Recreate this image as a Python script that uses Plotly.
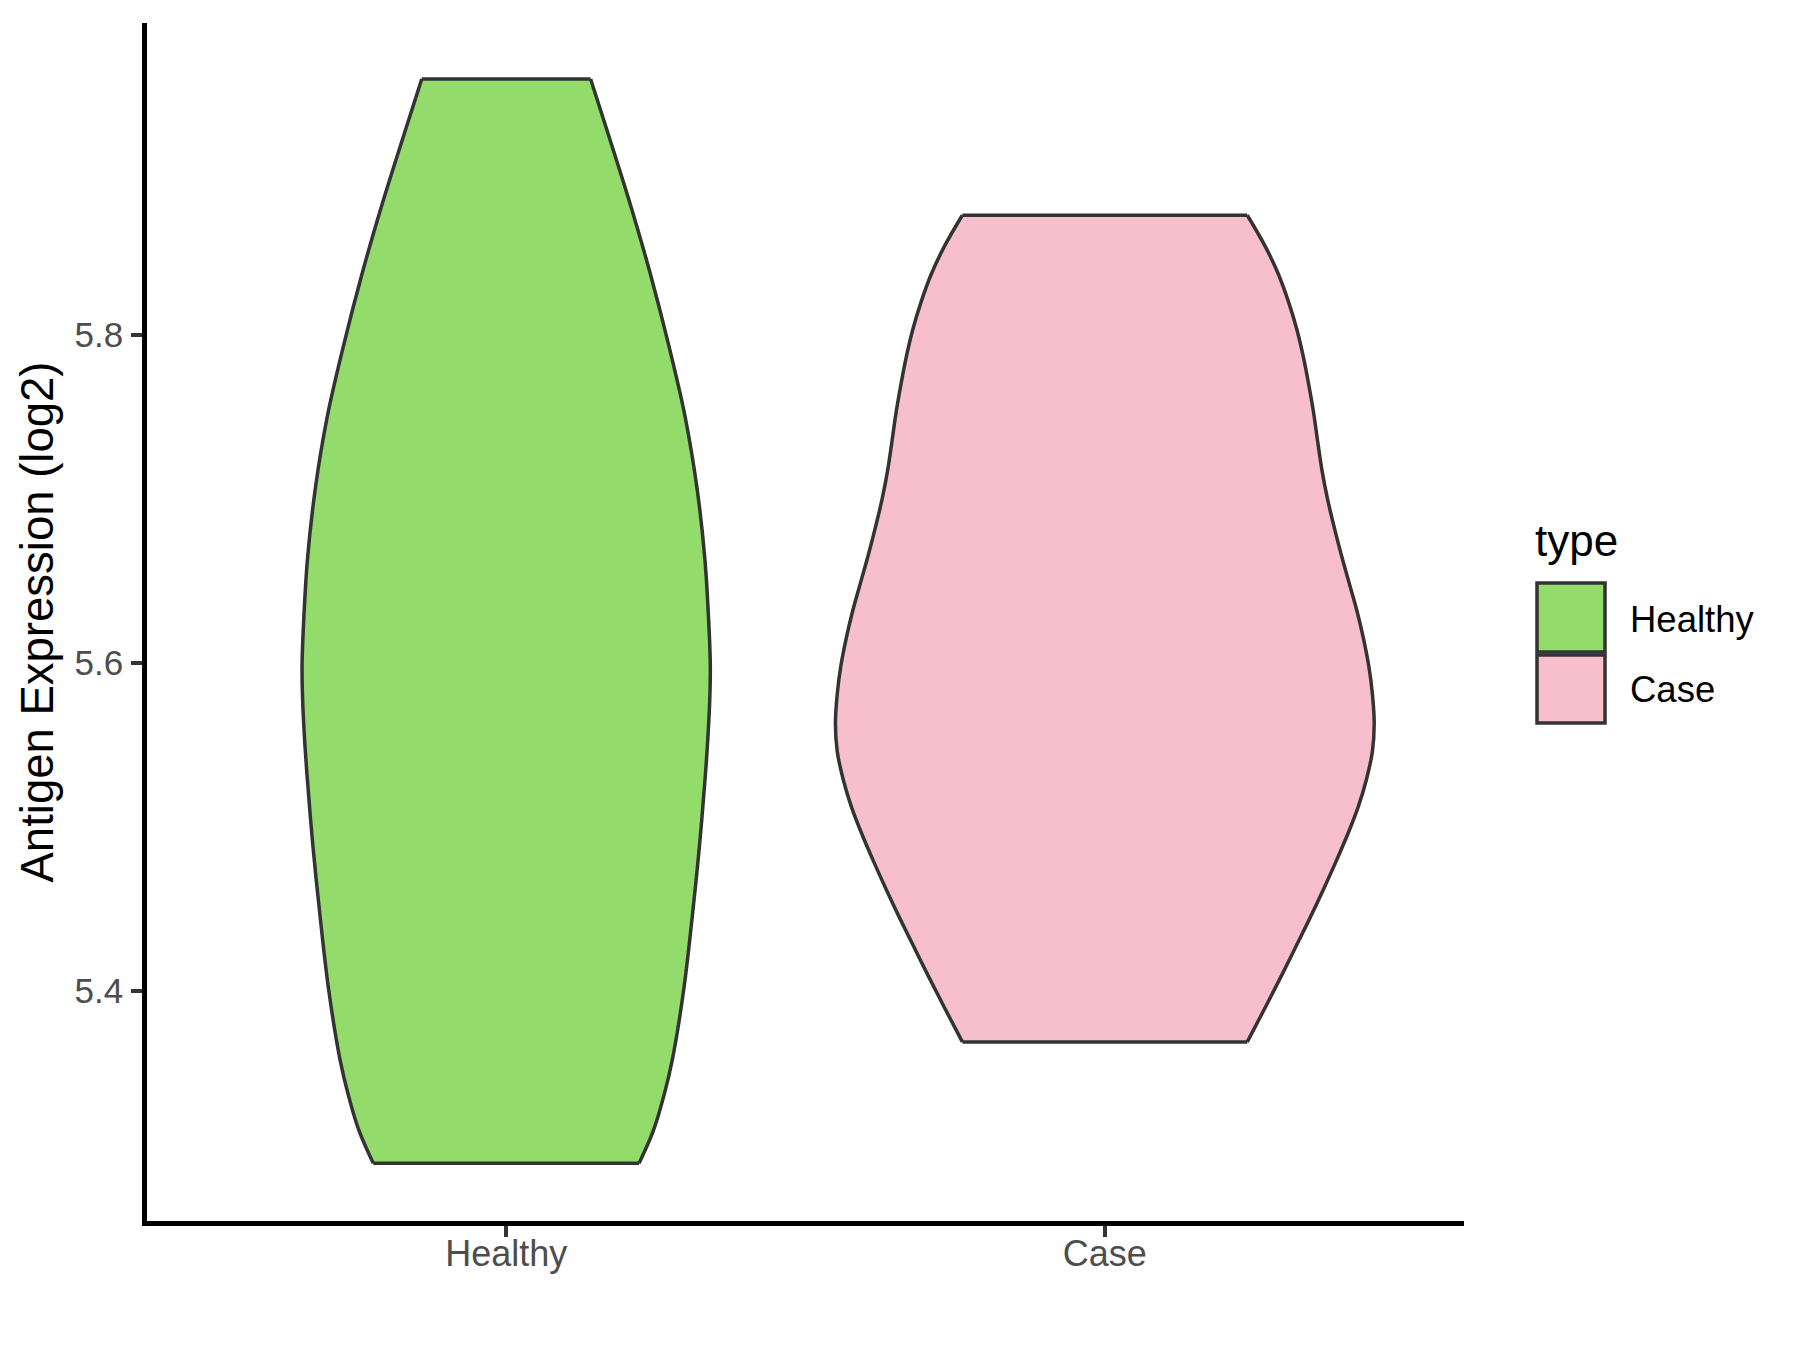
import plotly.graph_objects as go

# ---------------- data ----------------
categories = ["Healthy", "Case"]
fill_colors = ["#93DB6B", "#F7BFCB"]

# violin outline profiles: value (y) and half-width (x units)
healthy_y = [5.956, 5.923, 5.880, 5.837, 5.793, 5.750, 5.706, 5.663, 5.620,
             5.598, 5.577, 5.555, 5.533, 5.489, 5.446, 5.402, 5.359, 5.337,
             5.315, 5.295]
healthy_hw = [0.141, 0.170, 0.207, 0.241, 0.272, 0.299, 0.319, 0.332, 0.339,
              0.341, 0.340, 0.337, 0.333, 0.323, 0.311, 0.297, 0.278, 0.264,
              0.246, 0.222]

case_y = [5.873, 5.854, 5.837, 5.820, 5.803, 5.786, 5.769, 5.752, 5.734, 5.717,
          5.700, 5.683, 5.666, 5.649, 5.632, 5.615, 5.598, 5.581, 5.563, 5.546,
          5.529, 5.512, 5.495, 5.478, 5.461, 5.444, 5.427, 5.410, 5.390, 5.369]
case_hw = [0.238, 0.268, 0.290, 0.307, 0.321, 0.332, 0.341, 0.349, 0.356, 0.363,
           0.372, 0.383, 0.395, 0.408, 0.421, 0.432, 0.441, 0.447, 0.450, 0.447,
           0.437, 0.423, 0.405, 0.385, 0.364, 0.342, 0.319, 0.296, 0.268, 0.238]

y_ticks = [5.4, 5.6, 5.8]
y_range = [5.2598, 5.9902]
x_range = [0.4, 2.6]

# ---------------- layout constants ----------------
W, H = 1800, 1350
L, R, T, B = 147, 336, 23, 129
PW, PH = W - L - R, H - T - B
FONT = "Liberation Sans, Arial, sans-serif"
OUTLINE = "#333333"
LW = 3.5


def px_x(p):
    return (p - L) / PW


def px_y(p):
    return (H - B - p) / PH


fig = go.Figure()

profiles = [(healthy_y, healthy_hw), (case_y, case_hw)]
for i, (ys, hws) in enumerate(profiles):
    c = i + 1
    left = [c - h for h in hws]
    right = [c + h for h in hws]
    fig.add_trace(go.Scatter(
        x=left, y=ys, mode="lines",
        line=dict(color=OUTLINE, width=LW, shape="spline", smoothing=1,
                  simplify=False),
        showlegend=False, hoverinfo="skip"))
    fig.add_trace(go.Scatter(
        x=right, y=ys, mode="lines", fill="tonextx", fillcolor=fill_colors[i],
        line=dict(color=OUTLINE, width=LW, shape="spline", smoothing=1,
                  simplify=False),
        showlegend=False, hoverinfo="skip"))
    # flat top & bottom edges (trimmed violin)
    fig.add_trace(go.Scatter(
        x=[left[0], right[0], None, left[-1], right[-1]],
        y=[ys[0], ys[0], None, ys[-1], ys[-1]],
        mode="lines", line=dict(color=OUTLINE, width=LW),
        showlegend=False, hoverinfo="skip"))

# ---------------- manual legend (ggplot style) ----------------
shapes = []
annotations = []
box_x0, box_x1 = 1537, 1605
box_rows = [(583, 652), (655, 723)]
label_y = [619, 689]
for i, cat in enumerate(categories):
    y0, y1 = box_rows[i]
    shapes.append(dict(type="rect", xref="paper", yref="paper",
                       x0=px_x(box_x0), x1=px_x(box_x1),
                       y0=px_y(y1), y1=px_y(y0),
                       fillcolor=fill_colors[i],
                       line=dict(color=OUTLINE, width=LW)))
    annotations.append(dict(text=cat, xref="paper", yref="paper",
                            x=px_x(1628), y=px_y(label_y[i]),
                            xanchor="left", yanchor="middle", showarrow=False,
                            font=dict(family=FONT, size=36.5, color="#000000")))
annotations.append(dict(text="type", xref="paper", yref="paper",
                        x=px_x(1533), y=px_y(540),
                        xanchor="left", yanchor="middle", showarrow=False,
                        font=dict(family=FONT, size=44, color="#000000")))

fig.update_layout(
    width=W, height=H,
    margin=dict(l=L, r=R, t=T, b=B, pad=0, autoexpand=False),
    paper_bgcolor="white", plot_bgcolor="white",
    showlegend=False,
    font=dict(family=FONT),
    shapes=shapes, annotations=annotations,
    xaxis=dict(
        range=x_range, tickmode="array", tickvals=[1, 2], ticktext=categories,
        showgrid=False, zeroline=False, automargin=False,
        showline=True, linecolor="black", linewidth=4.5,
        ticks="outside", ticklen=11, tickwidth=4, tickcolor=OUTLINE,
        tickfont=dict(family=FONT, size=36, color="#4D4D4D"),
        ticklabelstandoff=-14,
    ),
    yaxis=dict(
        range=y_range, tickmode="array", tickvals=y_ticks,
        ticktext=[f"{v:.1f}" for v in y_ticks],
        showgrid=False, zeroline=False, automargin=False,
        showline=True, linecolor="black", linewidth=4.5,
        ticks="outside", ticklen=11, tickwidth=4, tickcolor=OUTLINE,
        tickfont=dict(family=FONT, size=35, color="#4D4D4D"),
        ticklabelstandoff=1,
        title=dict(text="Antigen Expression (log2)",
                   font=dict(family=FONT, size=45.5, color="#000000"),
                   standoff=8),
    ),
)

fig.write_html(
    "out.html",
    config={"displayModeBar": False},
    post_script="document.body.style.margin='0';document.body.style.padding='0';",
)
